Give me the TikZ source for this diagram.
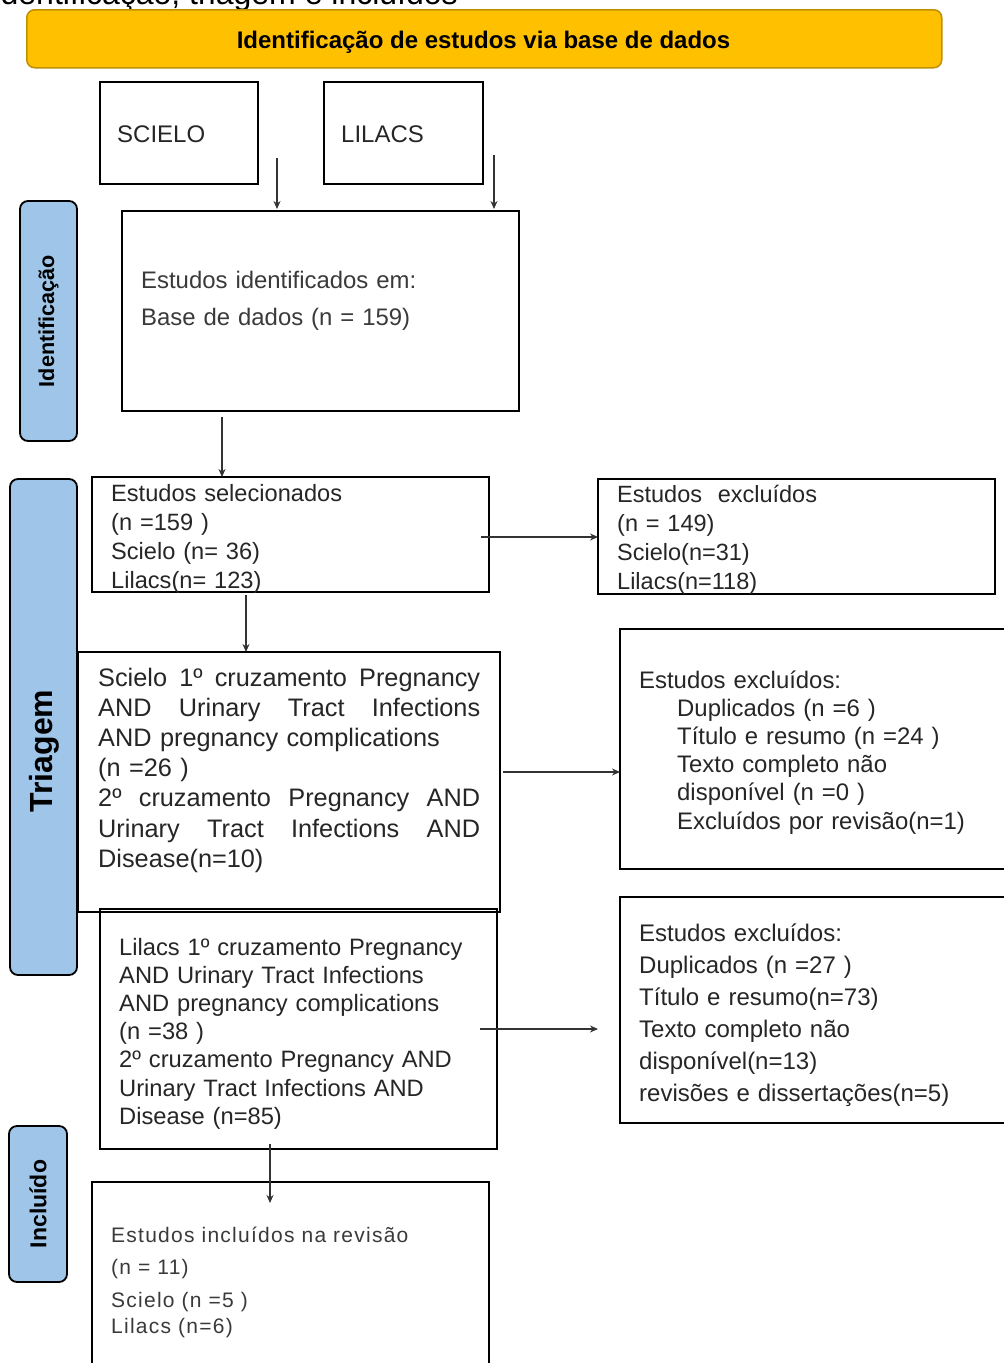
\documentclass[tikz,border=0pt]{standalone}
\usepackage{fontspec}
\setmainfont{Liberation Sans}
\newfontfamily\spacedfont[LetterSpace=6]{Liberation Sans}
\usetikzlibrary{arrows.meta}
\definecolor{banner}{HTML}{FFC000}
\definecolor{bannerline}{HTML}{BF9000}
\definecolor{phase}{HTML}{9FC5E8}
\definecolor{ink}{HTML}{262626}
\definecolor{softink}{HTML}{3A3A3A}
\definecolor{arrowc}{HTML}{333333}
\newcommand{\justline}[1]{\leavevmode\hbox to 382pt{#1}}
\begin{document}
\begin{tikzpicture}[x=1pt,y=-1pt,
  box/.style={draw=black, line width=1.8pt, rectangle, inner sep=0pt, outer sep=0pt, anchor=north west},
  phasebox/.style={draw=black, line width=1.8pt, fill=phase, rounded corners=8pt, inner sep=0pt, outer sep=0pt, anchor=north west},
  phaselabel/.style={rotate=90, inner sep=0pt, font=\bfseries\fontsize{#1}{#1}\selectfont, text=black},
  body/.style={text=ink, inner sep=0pt, anchor=base west, align=left, text width=#1},
  body/.default=380pt,
  conn/.style={draw=arrowc, line width=1.8pt, -{Stealth[length=8pt,width=7pt]}},
]
\useasboundingbox (0,0) rectangle (1004,1363);
\clip (0,0) rectangle (1004,1363);
\fill[white] (0,0) rectangle (1004,1363);

% cut-off heading at the very top
\node[anchor=base east, inner sep=0pt, font=\fontsize{32}{38}\selectfont] (heading) at (458,4) {Identificação, triagem e incluídos};

% banner
\node[draw=bannerline, line width=1.5pt, fill=banner, rounded corners=8pt, inner sep=0pt,
      minimum width=915pt, minimum height=58pt, anchor=north west] (banner) at (26,9) {};
\node[font=\bfseries\fontsize{24}{28}\selectfont, inner sep=0pt] (bannertext) at (483.5,42) {Identificação de estudos via base de dados};

% phase labels
\node[phasebox, minimum width=57pt, minimum height=240pt] (phid) at (20,201) {};
\node[phaselabel=21.6] (phidtext) at (48.5,321) {Identificação};
\node[phasebox, minimum width=67pt, minimum height=496pt] (phtr) at (10,479) {};
\node[phaselabel=32] (phtrtext) at (44,751) {Triagem};
\node[phasebox, minimum width=58pt, minimum height=156pt] (phin) at (9,1126) {};
\node[phaselabel=23] (phintext) at (38,1204) {Incluído};

% database boxes
\node[box, minimum width=158pt, minimum height=102pt] (scielodb) at (100,82) {};
\node[body=120pt, font=\fontsize{24}{29}\selectfont] (scielodbt) at (117,142) {SCIELO};
\node[box, minimum width=159pt, minimum height=102pt] (lilacsdb) at (324,82) {};
\node[body=120pt, font=\fontsize{24}{29}\selectfont] (lilacsdbt) at (341,142) {LILACS};

% identification box
\node[box, minimum width=397pt, minimum height=200pt] (ident) at (122,211) {};
\node[body, text=softink, font=\fontsize{23.9}{37}\selectfont] (identt) at (141,288)
  {Estudos identificados em:\\Base de dados (n = 159)};

% selected
\node[box, minimum width=397pt, minimum height=115pt] (sel) at (92,477) {};
\node[body, font=\fontsize{23.6}{29}\selectfont] (selt) at (111,501)
  {Estudos selecionados\\(n =159 )\\Scielo (n= 36)\\Lilacs(n= 123)};

% excluded 1
\node[box, minimum width=397pt, minimum height=115pt] (excl1) at (598,479) {};
\node[body, font=\fontsize{23.5}{29}\selectfont] (excl1t) at (617,502)
  {Estudos\ \ excluídos\\(n = 149)\\Scielo(n=31)\\Lilacs(n=118)};

% Scielo crossings
\node[box, minimum width=422pt, minimum height=260pt] (scielo) at (78,652) {};
\node[body=400pt, font=\fontsize{25.3}{30.2}\selectfont] (scielot) at (98,686)
  {\justline{Scielo\hfill 1º\hfill cruzamento\hfill Pregnancy}\\
   \justline{AND\hfill Urinary\hfill Tract\hfill Infections}\\
   AND pregnancy complications\\
   (n =26 )\\
   \justline{2º\hfill cruzamento\hfill Pregnancy\hfill AND}\\
   \justline{Urinary\hfill Tract\hfill Infections\hfill AND}\\
   Disease(n=10)};

% excluded 2
\node[box, minimum width=400pt, minimum height=240pt] (excl2) at (620,629) {};
\node[body, font=\fontsize{23.9}{28.2}\selectfont] (excl2t) at (639,688)
  {Estudos excluídos:\\
   \hspace*{38pt}Duplicados (n =6 )\\
   \hspace*{38pt}Título e resumo (n =24 )\\
   \hspace*{38pt}Texto completo não\\
   \hspace*{38pt}disponível (n =0 )\\
   \hspace*{38pt}Excluídos por revisão(n=1)};

% Lilacs crossings
\node[box, minimum width=397pt, minimum height=240pt] (lilacs) at (100,909) {};
\node[body, font=\fontsize{23.7}{28.2}\selectfont] (lilacst) at (119,955)
  {Lilacs 1º cruzamento Pregnancy\\
   AND Urinary Tract Infections\\
   AND pregnancy complications\\
   (n =38 )\\
   2º cruzamento Pregnancy AND\\
   Urinary Tract Infections AND\\
   Disease (n=85)};

% excluded 3
\node[box, minimum width=400pt, minimum height=226pt] (excl3) at (620,897) {};
\node[body, font=\fontsize{24}{32}\selectfont] (excl3t) at (639,941)
  {Estudos excluídos:\\
   Duplicados (n =27 )\\
   Título e resumo(n=73)\\
   Texto completo não\\
   disponível(n=13)\\
   revisões e dissertações(n=5)};

% included
\node[box, minimum width=397pt, minimum height=200pt] (incl) at (92,1182) {};
\node[body, text=softink, font=\spacedfont\fontsize{21}{26}\selectfont] (inclt) at (111,1242)
  {Estudos incluídos na revisão\\[6pt]
   (n = 11)\\[7pt]
   Scielo (n =5 )\\
   Lilacs (n=6)};

% connectors
\coordinate (a1s) at (277,158);
\coordinate (a2s) at (494,155);
\coordinate (a3s) at (222,417);
\coordinate (a4s) at (481,537);
\coordinate (a5s) at (246,595);
\coordinate (a6s) at (503,772);
\coordinate (a7s) at (480,1029);
\coordinate (a7e) at (598,1029);
\coordinate (a8s) at (270,1144);
\coordinate (a8e) at (270,1203);
\draw[conn, shorten >=2pt] (a1s) -- (a1s |- ident.north);
\draw[conn, shorten >=2pt] (a2s) -- (a2s |- ident.north);
\draw[conn] (a3s) -- (a3s |- sel.north);
\draw[conn] (a4s) -- (a4s -| excl1.west);
\draw[conn] (a5s) -- (a5s |- scielo.north);
\draw[conn] (a6s) -- (a6s -| excl2.west);
\draw[conn] (a7s) -- (a7e);
\draw[conn] (a8s) -- (a8e);
\end{tikzpicture}
\end{document}
